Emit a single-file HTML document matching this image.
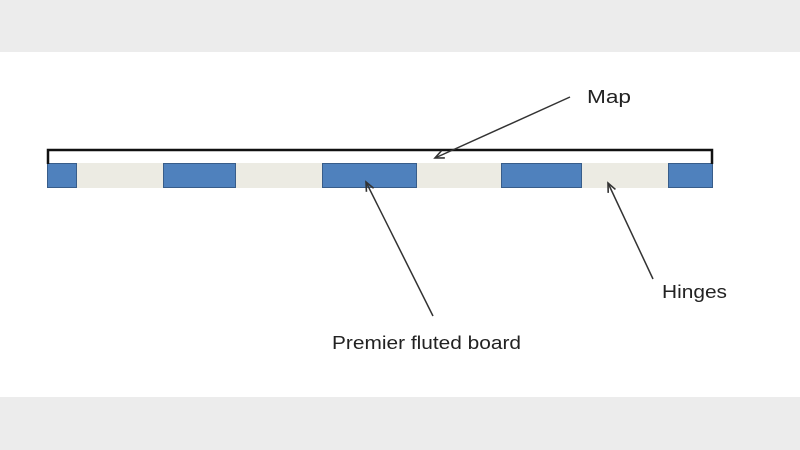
<!DOCTYPE html>
<html><head><meta charset="utf-8"><style>html,body{margin:0;padding:0;background:#fff}svg{display:block}</style></head>
<body>
<svg width="800" height="450" viewBox="0 0 800 450" xmlns="http://www.w3.org/2000/svg">
<defs>
<marker id="a" markerWidth="12" markerHeight="10" refX="10" refY="5" orient="auto" markerUnits="userSpaceOnUse">
<path d="M1,1 L10,5 L1,9" fill="none" stroke="#333" stroke-width="1.6"/>
</marker>
</defs>
<rect x="0" y="0" width="800" height="52" fill="#ececec"/>
<rect x="0" y="397" width="800" height="53" fill="#ececec"/>
<rect x="47" y="163" width="666" height="25" fill="#ecebe3"/>
<g fill="#4f81bd" stroke="#385d8a" stroke-width="1">
<rect x="47.5" y="163.5" width="29" height="24"/>
<rect x="163.5" y="163.5" width="72" height="24"/>
<rect x="322.5" y="163.5" width="94" height="24"/>
<rect x="501.5" y="163.5" width="80" height="24"/>
<rect x="668.5" y="163.5" width="44" height="24"/>
</g>
<path d="M48,164 V150 H712 V164" fill="none" stroke="#111" stroke-width="2.5"/>
<g stroke="#333" stroke-width="1.5">
<line x1="570" y1="97" x2="435" y2="158" marker-end="url(#a)"/>
<line x1="433" y1="316" x2="366" y2="182" marker-end="url(#a)"/>
<line x1="653" y1="279" x2="608" y2="183" marker-end="url(#a)"/>
</g>
<g font-family="Liberation Sans, sans-serif" font-size="18" fill="#222">
<text x="587" y="103" textLength="44" lengthAdjust="spacingAndGlyphs">Map</text>
<text x="662" y="298" textLength="65" lengthAdjust="spacingAndGlyphs">Hinges</text>
<text x="332" y="349" textLength="189" lengthAdjust="spacingAndGlyphs">Premier fluted board</text>
</g>
</svg>
</body></html>
